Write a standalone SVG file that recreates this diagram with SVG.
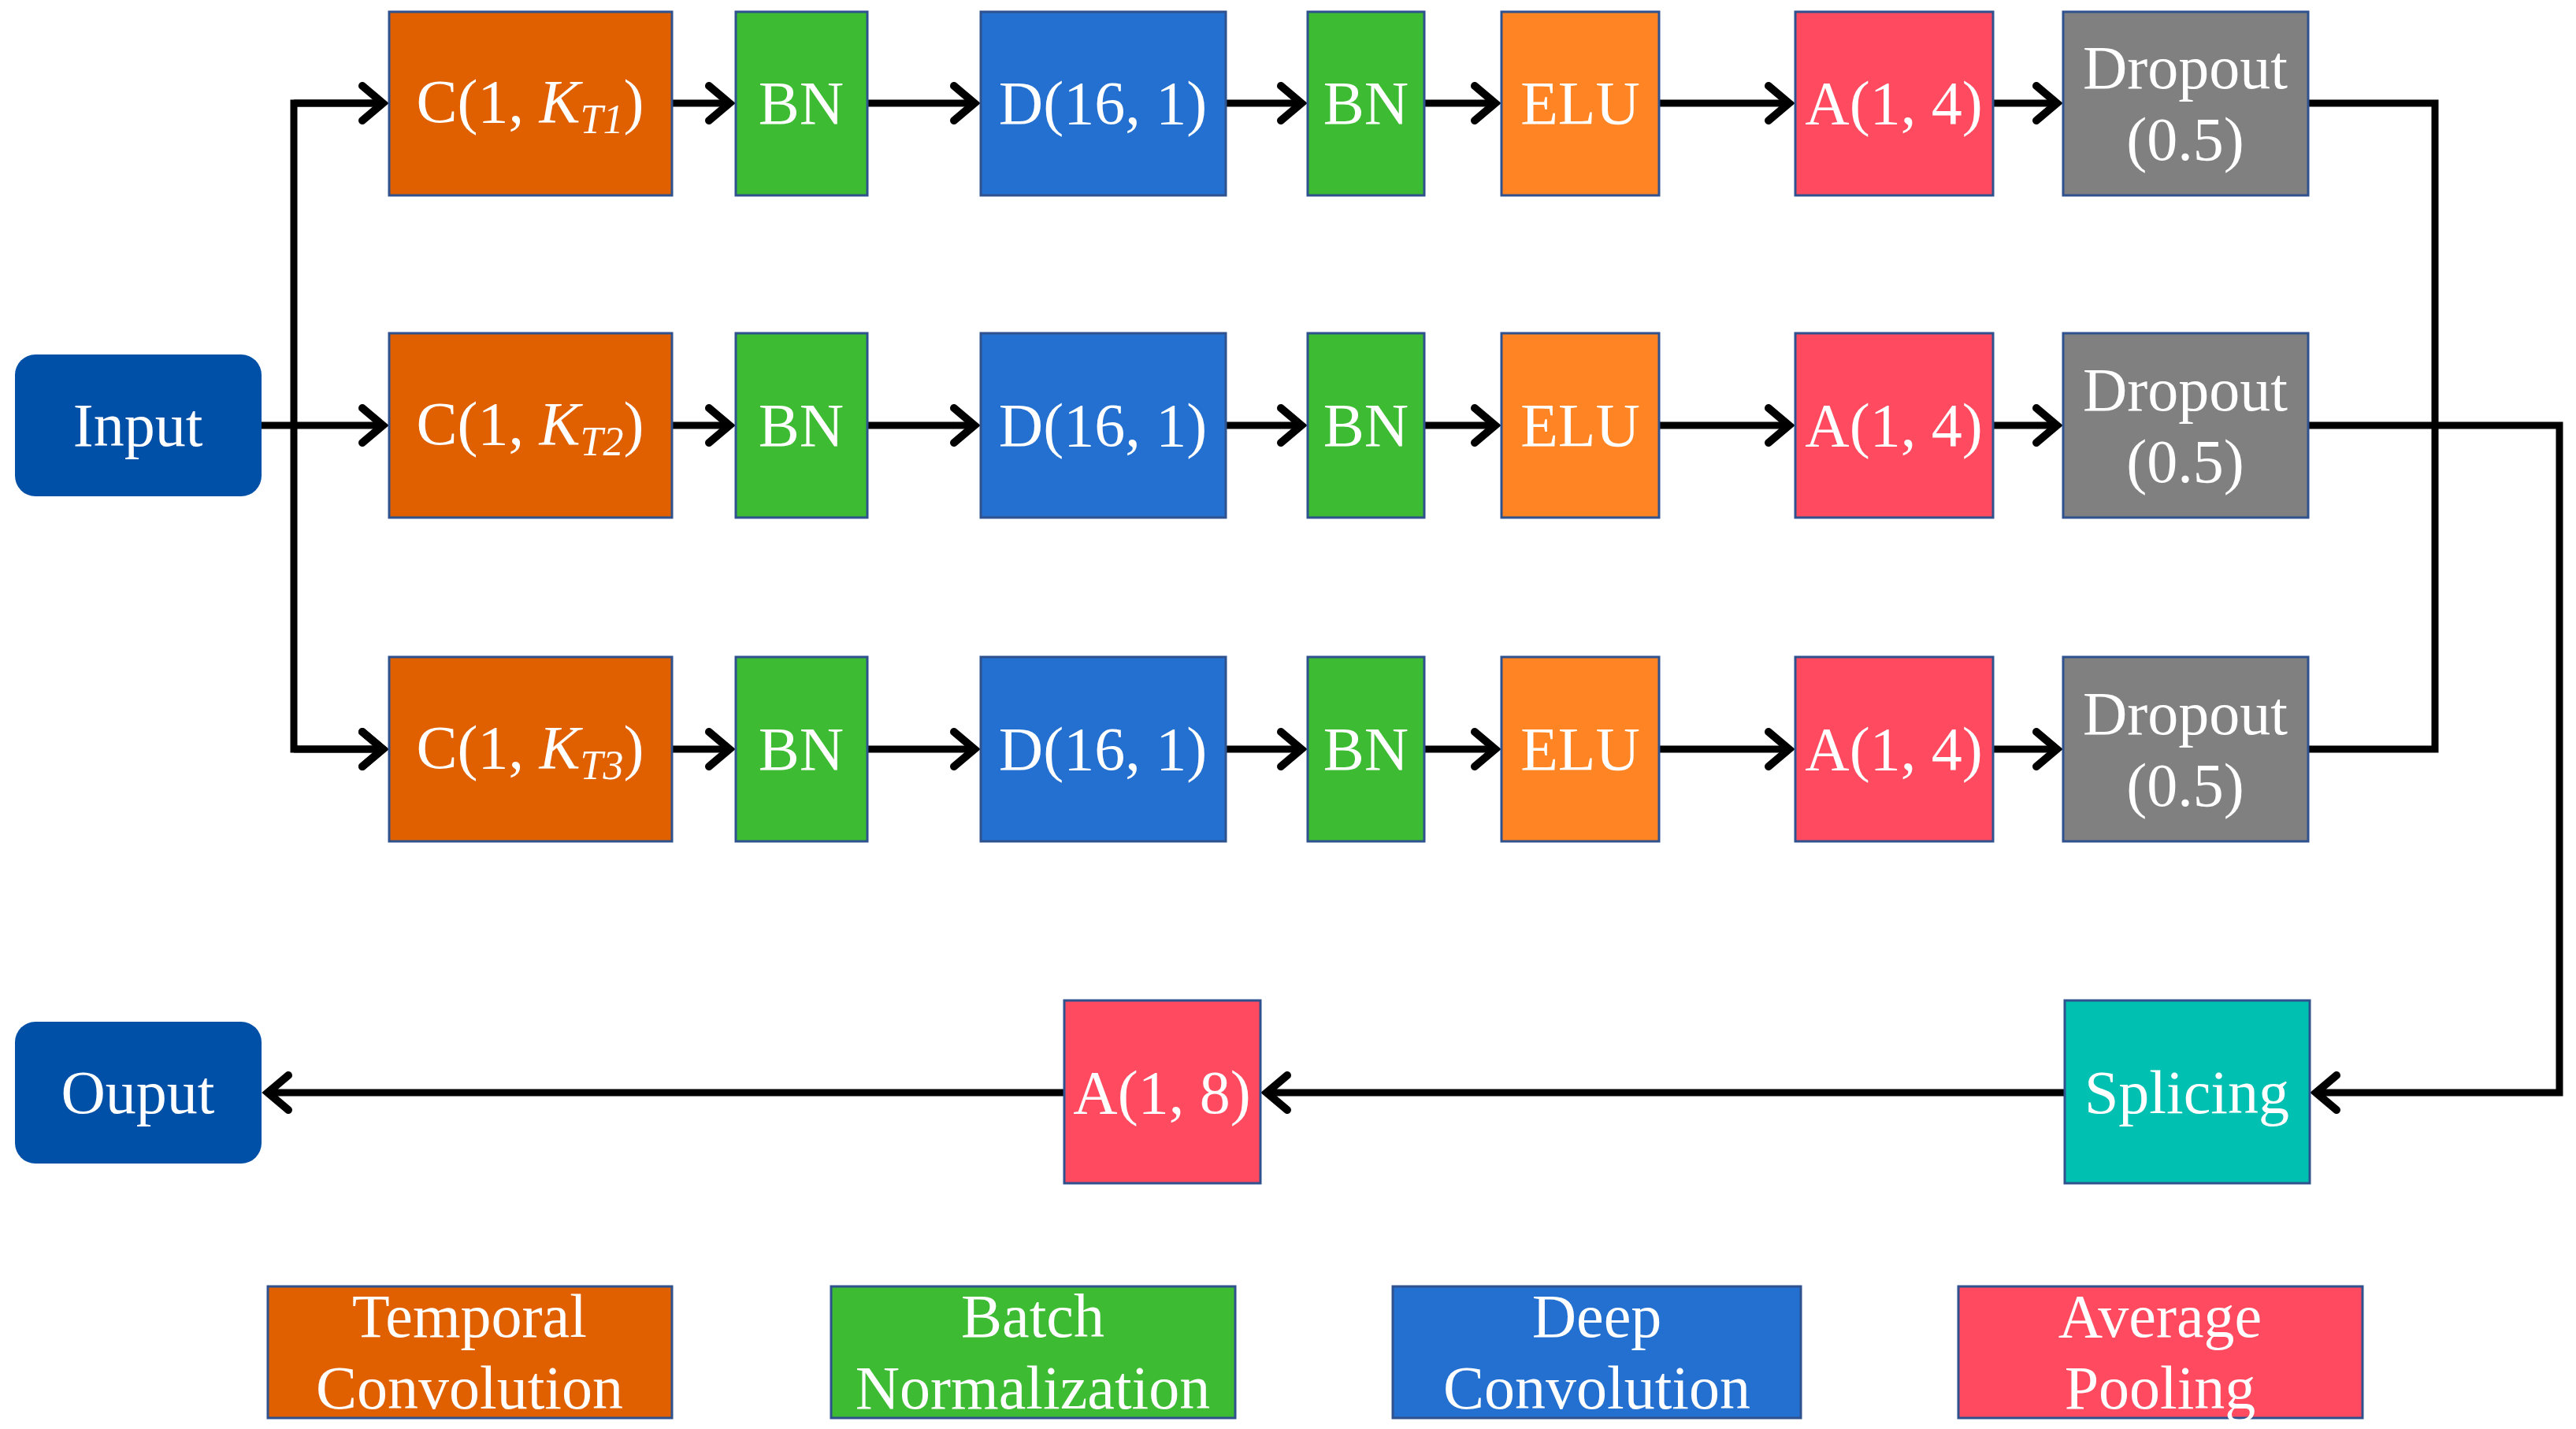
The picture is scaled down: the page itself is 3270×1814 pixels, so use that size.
<svg xmlns="http://www.w3.org/2000/svg" width="3270" height="1814" viewBox="0 0 3270 1814">
<defs>
<style>
.b{stroke:#2F528F;stroke-width:3}
.t{font-family:"Liberation Serif",serif;font-size:78px;fill:#fff;text-anchor:middle}
.c{fill:none;stroke:#000;stroke-width:9;stroke-linejoin:miter}
.o{fill:#E06000}.g{fill:#3DBB33}.d{fill:#2370D0}.e{fill:#FF8424}.a{fill:#FF4A60}.y{fill:#808080}.s{fill:#00C0B2}.n{fill:#0050A8}
</style>
<marker id="ar" markerUnits="userSpaceOnUse" markerWidth="60" markerHeight="60" refX="40" refY="30" orient="auto">
<path d="M12,8 L38,30 L12,52" fill="none" stroke="#000" stroke-width="10" stroke-linecap="round"/>
</marker>
</defs>
<rect width="3270" height="1814" fill="#fff"/>
<g id="connectors" class="c">
<path d="M332,540 H488" marker-end="url(#ar)"/>
<path d="M488,131 H373 V951 H488" marker-end="url(#ar)"/>
<path d="M373,951 H488" marker-end="url(#ar)"/>
<path d="M373,131 H488" marker-end="url(#ar)"/>
<g id="r1">
<path d="M853,131 H928" marker-end="url(#ar)"/><path d="M1101,131 H1239" marker-end="url(#ar)"/><path d="M1556,131 H1654" marker-end="url(#ar)"/><path d="M1808,131 H1900" marker-end="url(#ar)"/><path d="M2106,131 H2273" marker-end="url(#ar)"/><path d="M2530,131 H2613" marker-end="url(#ar)"/>
</g>
<g id="r2">
<path d="M853,540 H928" marker-end="url(#ar)"/><path d="M1101,540 H1239" marker-end="url(#ar)"/><path d="M1556,540 H1654" marker-end="url(#ar)"/><path d="M1808,540 H1900" marker-end="url(#ar)"/><path d="M2106,540 H2273" marker-end="url(#ar)"/><path d="M2530,540 H2613" marker-end="url(#ar)"/>
</g>
<g id="r3">
<path d="M853,951 H928" marker-end="url(#ar)"/><path d="M1101,951 H1239" marker-end="url(#ar)"/><path d="M1556,951 H1654" marker-end="url(#ar)"/><path d="M1808,951 H1900" marker-end="url(#ar)"/><path d="M2106,951 H2273" marker-end="url(#ar)"/><path d="M2530,951 H2613" marker-end="url(#ar)"/>
</g>
<path d="M2930,131 H3091 V951 H2930"/>
<path d="M2930,540 H3249 V1387 H2938" marker-end="url(#ar)"/>
<path d="M2621,1387 H1606" marker-end="url(#ar)"/>
<path d="M1351,1387 H338" marker-end="url(#ar)"/>
</g>
<g id="input"><rect x="19" y="450" width="313" height="180" rx="26" class="n"/><text x="175" y="566" class="t">Input</text></g>
<g id="output"><rect x="19" y="1297" width="313" height="180" rx="26" class="n"/><text x="175" y="1413" class="t">Ouput</text></g>
<g id="row1">
<g id="c1"><rect x="494" y="15" width="359" height="233" class="o b"/><text x="673" y="155" class="t">C(1, <tspan font-style="italic">K</tspan><tspan font-style="italic" font-size="52" dy="14">T1</tspan><tspan dy="-14">)</tspan></text></g>
<g id="bn1a"><rect x="934" y="15" width="167" height="233" class="g b"/><text x="1017" y="157" class="t">BN</text></g>
<g id="d1"><rect x="1245" y="15" width="311" height="233" class="d b"/><text x="1400" y="157" class="t">D(16, 1)</text></g>
<g id="bn1b"><rect x="1660" y="15" width="148" height="233" class="g b"/><text x="1734" y="157" class="t">BN</text></g>
<g id="elu1"><rect x="1906" y="15" width="200" height="233" class="e b"/><text x="2006" y="157" class="t">ELU</text></g>
<g id="a1"><rect x="2279" y="15" width="251" height="233" class="a b"/><text x="2404" y="157" class="t">A(1, 4)</text></g>
<g id="dr1"><rect x="2619" y="15" width="311" height="233" class="y b"/><text x="2774" y="112" class="t">Dropout</text><text x="2774" y="203" class="t">(0.5)</text></g>
</g>
<g id="row2">
<g id="c2"><rect x="494" y="423" width="359" height="234" class="o b"/><text x="673" y="564" class="t">C(1, <tspan font-style="italic">K</tspan><tspan font-style="italic" font-size="52" dy="14">T2</tspan><tspan dy="-14">)</tspan></text></g>
<g id="bn2a"><rect x="934" y="423" width="167" height="234" class="g b"/><text x="1017" y="566" class="t">BN</text></g>
<g id="d2"><rect x="1245" y="423" width="311" height="234" class="d b"/><text x="1400" y="566" class="t">D(16, 1)</text></g>
<g id="bn2b"><rect x="1660" y="423" width="148" height="234" class="g b"/><text x="1734" y="566" class="t">BN</text></g>
<g id="elu2"><rect x="1906" y="423" width="200" height="234" class="e b"/><text x="2006" y="566" class="t">ELU</text></g>
<g id="a2"><rect x="2279" y="423" width="251" height="234" class="a b"/><text x="2404" y="566" class="t">A(1, 4)</text></g>
<g id="dr2"><rect x="2619" y="423" width="311" height="234" class="y b"/><text x="2774" y="521" class="t">Dropout</text><text x="2774" y="612" class="t">(0.5)</text></g>
</g>
<g id="row3">
<g id="c3"><rect x="494" y="834" width="359" height="234" class="o b"/><text x="673" y="975" class="t">C(1, <tspan font-style="italic">K</tspan><tspan font-style="italic" font-size="52" dy="14">T3</tspan><tspan dy="-14">)</tspan></text></g>
<g id="bn3a"><rect x="934" y="834" width="167" height="234" class="g b"/><text x="1017" y="977" class="t">BN</text></g>
<g id="d3"><rect x="1245" y="834" width="311" height="234" class="d b"/><text x="1400" y="977" class="t">D(16, 1)</text></g>
<g id="bn3b"><rect x="1660" y="834" width="148" height="234" class="g b"/><text x="1734" y="977" class="t">BN</text></g>
<g id="elu3"><rect x="1906" y="834" width="200" height="234" class="e b"/><text x="2006" y="977" class="t">ELU</text></g>
<g id="a3"><rect x="2279" y="834" width="251" height="234" class="a b"/><text x="2404" y="977" class="t">A(1, 4)</text></g>
<g id="dr3"><rect x="2619" y="834" width="311" height="234" class="y b"/><text x="2774" y="932" class="t">Dropout</text><text x="2774" y="1023" class="t">(0.5)</text></g>
</g>
<g id="a8"><rect x="1351" y="1270" width="249" height="232" class="a b"/><text x="1475" y="1413" class="t">A(1, 8)</text></g>
<g id="splicing"><rect x="2621" y="1270" width="311" height="232" class="s b"/><text x="2776" y="1413" class="t">Splicing</text></g>
<g id="legend">
<g id="l1"><rect x="340" y="1633" width="513" height="167" class="o b"/><text x="596" y="1697" class="t">Temporal</text><text x="596" y="1788" class="t">Convolution</text></g>
<g id="l2"><rect x="1055" y="1633" width="513" height="167" class="g b"/><text x="1311" y="1697" class="t">Batch</text><text x="1311" y="1788" class="t">Normalization</text></g>
<g id="l3"><rect x="1768" y="1633" width="518" height="167" class="d b"/><text x="2027" y="1697" class="t">Deep</text><text x="2027" y="1788" class="t">Convolution</text></g>
<g id="l4"><rect x="2486" y="1633" width="513" height="167" class="a b"/><text x="2742" y="1697" class="t">Average</text><text x="2742" y="1788" class="t">Pooling</text></g>
</g>
</svg>
